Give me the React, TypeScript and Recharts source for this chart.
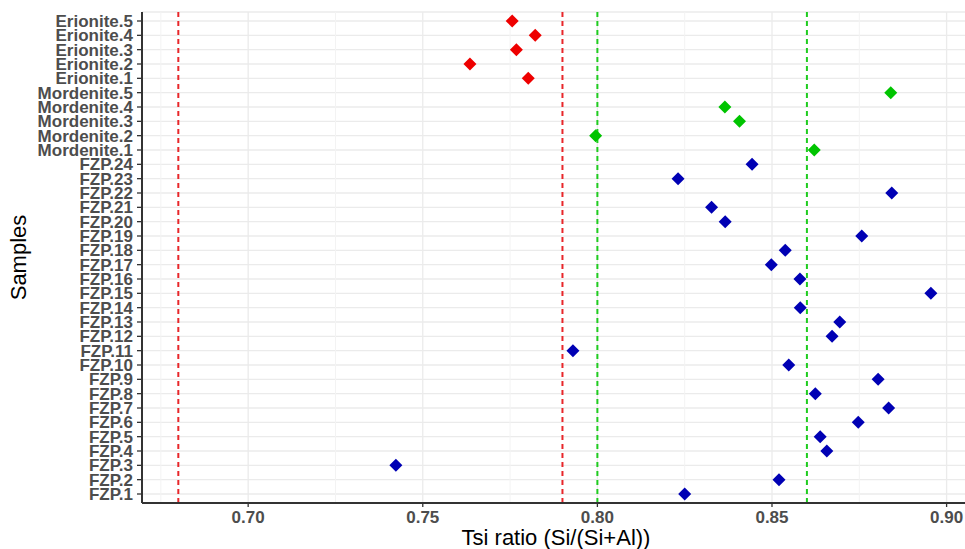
import React from 'react';
import {
  CartesianGrid,
  Cell,
  ReferenceLine,
  Scatter,
  ScatterChart,
  XAxis,
  YAxis,
} from 'recharts';

// bottom to top, as on the y axis
const samples = [
  'FZP.1', 'FZP.2', 'FZP.3', 'FZP.4', 'FZP.5', 'FZP.6', 'FZP.7', 'FZP.8',
  'FZP.9', 'FZP.10', 'FZP.11', 'FZP.12', 'FZP.13', 'FZP.14', 'FZP.15', 'FZP.16',
  'FZP.17', 'FZP.18', 'FZP.19', 'FZP.20', 'FZP.21', 'FZP.22', 'FZP.23', 'FZP.24',
  'Mordenite.1', 'Mordenite.2', 'Mordenite.3', 'Mordenite.4', 'Mordenite.5',
  'Erionite.1', 'Erionite.2', 'Erionite.3', 'Erionite.4', 'Erionite.5',
];

const tsi = [
  0.825, 0.852, 0.7423, 0.8657, 0.8638, 0.8747, 0.8834, 0.8624,
  0.8804, 0.8548, 0.793, 0.8672, 0.8694, 0.8581, 0.8955, 0.858,
  0.8498, 0.8538, 0.8757, 0.8366, 0.8327, 0.8843, 0.8231, 0.8443,
  0.8621, 0.7995, 0.8407, 0.8365, 0.884,
  0.7802, 0.7635, 0.7768, 0.7822, 0.7756,
];

const xTicks = [0.7, 0.75, 0.8, 0.85, 0.9];
const minorBreaks = [0.675, 0.725, 0.775, 0.825, 0.875];
const erioniteLimits = [0.68, 0.79];
const mordeniteLimits = [0.8, 0.86];

const groupColors: Record<string, string> = {
  FZP: '#0000b4',
  Mordenite: '#00c400',
  Erionite: '#ee0000',
};

const data = samples.map((s, i) => ({ sample: s, tsi: tsi[i], group: s.split('.')[0] }));

const Diamond = (props: any) => {
  const { cx, cy, fill } = props;
  const r = 6.5;
  return (
    <polygon
      points={`${cx},${cy - r} ${cx + r},${cy} ${cx},${cy + r} ${cx - r},${cy}`}
      fill={fill}
    />
  );
};

const tickStyle = { fill: '#4d4d4d', fontSize: 17, fontWeight: 700 };

export default function App() {
  return (
    <div
      style={{
        position: 'absolute',
        left: 0,
        top: 0,
        width: 965,
        height: 549,
        overflow: 'hidden',
        background: '#fff',
        fontFamily: '"Liberation Sans", Arial, sans-serif',
      }}
    >
      <ScatterChart width={970} height={549} margin={{ top: 12, right: 0, bottom: 0, left: 0 }}>
        <CartesianGrid stroke="#ebebeb" strokeWidth={1.3} />
        {minorBreaks.map((v) => (
          <ReferenceLine key={v} x={v} stroke="#f3f3f3" strokeWidth={1} />
        ))}
        <XAxis
          type="number"
          dataKey="tsi"
          domain={[0.6696, 0.9067]}
          ticks={xTicks}
          tickFormatter={(v: number) => v.toFixed(2)}
          allowDataOverflow
          height={46}
          tick={tickStyle}
          tickSize={4}
          tickMargin={4}
          stroke="#333333"
          axisLine={{ stroke: '#333333', strokeWidth: 2 }}
          tickLine={{ stroke: '#333333', strokeWidth: 1.3 }}
          label={{
            value: 'Tsi ratio (Si/(Si+Al))',
            position: 'insideBottom',
            offset: 4,
            style: { fill: '#000', fontSize: 22 },
          }}
        />
        <XAxis
          xAxisId="top"
          orientation="top"
          type="number"
          domain={[0.6696, 0.9067]}
          height={0}
          tick={false}
          tickLine={false}
          axisLine={{ stroke: '#333333', strokeWidth: 2 }}
        />
        <YAxis
          type="category"
          dataKey="sample"
          scale="point"
          allowDuplicatedCategory={false}
          padding={{ top: 9, bottom: 9 }}
          width={142}
          interval={0}
          tick={tickStyle}
          tickSize={5}
          tickMargin={4}
          axisLine={{ stroke: '#333333', strokeWidth: 2 }}
          tickLine={{ stroke: '#333333', strokeWidth: 1.3 }}
          label={{
            value: 'Samples',
            angle: -90,
            position: 'insideLeft',
            offset: 18,
            style: { fill: '#000', fontSize: 22, textAnchor: 'middle' },
          }}
        />
        {erioniteLimits.map((v) => (
          <ReferenceLine key={'e' + v} x={v} stroke="#e8262a" strokeWidth={2} strokeDasharray="5 4" />
        ))}
        {mordeniteLimits.map((v) => (
          <ReferenceLine key={'m' + v} x={v} stroke="#1fcc1f" strokeWidth={2} strokeDasharray="5 4" />
        ))}
        <Scatter data={data} shape={Diamond} isAnimationActive={false}>
          {data.map((d) => (
            <Cell key={d.sample} fill={groupColors[d.group]} />
          ))}
        </Scatter>
      </ScatterChart>
    </div>
  );
}
